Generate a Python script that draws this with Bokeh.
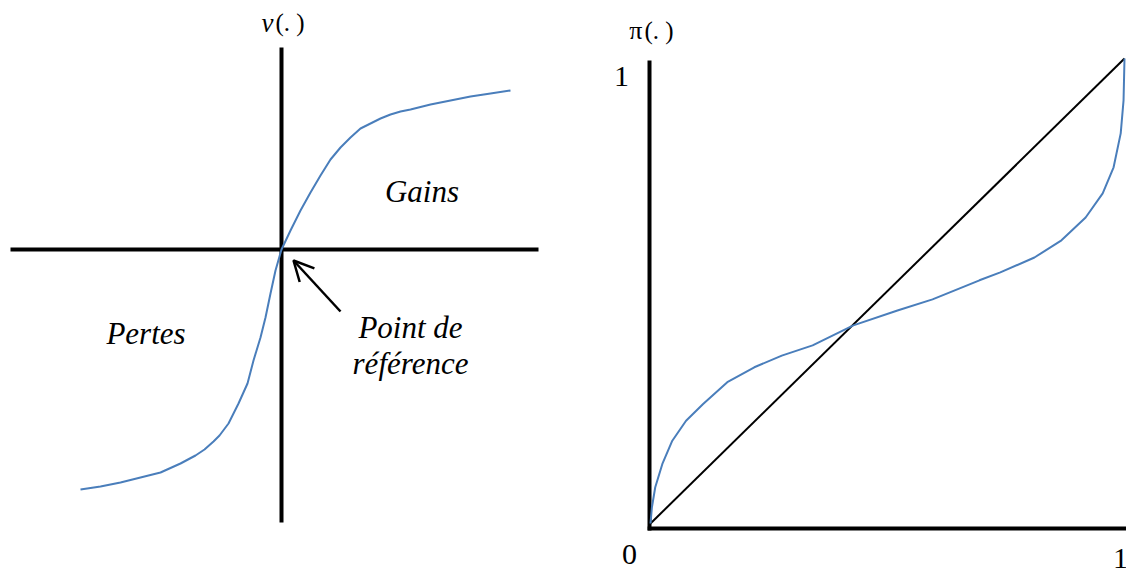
from bokeh.plotting import figure
from bokeh.models import Range1d, Arrow, OpenHead
from bokeh.core.properties import value
from bokeh.embed import file_html
from bokeh.resources import INLINE

# ---------------- data ----------------
# Left panel: value function v(.) (gains and losses around the reference point)
gain_x = [0, 0.09, 0.19, 0.29, 0.39, 0.49, 0.59, 0.69, 0.79, 0.89, 0.99, 1.09, 1.19, 1.29,
          1.49, 1.69, 1.89, 2.09, 2.29]
gain_y = [0, 0.19, 0.39, 0.57, 0.74, 0.90, 1.02, 1.12, 1.21, 1.26, 1.31, 1.35, 1.38, 1.40,
          1.45, 1.49, 1.53, 1.56, 1.59]
loss_x = [0, -0.06, -0.11, -0.16, -0.21, -0.28, -0.34, -0.43, -0.53, -0.62, -0.68, -0.77,
          -0.86, -1.01, -1.21, -1.41, -1.61, -1.81, -2.01]
loss_y = [0, -0.21, -0.44, -0.68, -0.88, -1.11, -1.34, -1.54, -1.74, -1.86, -1.92, -2.00,
          -2.06, -2.14, -2.23, -2.28, -2.33, -2.37, -2.40]

# Right panel: probability weighting function pi(.)
prob_p = [0, 0.003, 0.010, 0.025, 0.046, 0.075, 0.111, 0.162, 0.219, 0.277, 0.342, 0.428,
          0.521, 0.595, 0.694, 0.738, 0.810, 0.867, 0.918, 0.954, 0.977, 0.992, 0.998, 1.0]
prob_w = [0, 0.035, 0.078, 0.128, 0.178, 0.221, 0.257, 0.304, 0.336, 0.361, 0.383, 0.426,
          0.458, 0.482, 0.523, 0.540, 0.572, 0.609, 0.658, 0.710, 0.766, 0.839, 0.910, 1.0]
diag = [0, 1]

left_labels = ["Gains", "Pertes", "Point de", "référence"]
tick_labels = ["1", "0", "1"]

BLUE = "#4A7EBB"
FONT = value("Liberation Serif")

# ---------------- figure ----------------
p = figure(width=1126, height=571, output_backend="svg", toolbar_location=None,
           x_axis_type=None, y_axis_type=None,
           x_range=Range1d(-2.81, 8.45), y_range=Range1d(-3.22, 2.49),
           min_border=0, min_border_left=0, min_border_right=0,
           min_border_top=0, min_border_bottom=0)
p.extra_x_ranges = {"w": Range1d(-1.37131, 1.00422)}
p.extra_y_ranges = {"w": Range1d(-0.10323, 1.12473)}
p.outline_line_color = None
p.background_fill_color = "white"
p.border_fill_color = "white"
p.grid.visible = False

# ---- left panel ----
# axes crossing at the reference point
p.segment(x0=[-2.71, 0], y0=[0, 2.02], x1=[2.57, 0], y1=[0, -2.73],
          line_color="black", line_width=4)
vx = list(reversed(loss_x)) + gain_x[1:]
vy = list(reversed(loss_y)) + gain_y[1:]
p.line(vx, vy, line_color=BLUE, line_width=2, line_join="round")

p.text(x=[1.405, -1.355, 1.29, 1.29], y=[0.58, -0.84, -0.78, -1.14], text=left_labels,
       text_font=FONT, text_font_size="31px", text_font_style="italic",
       text_align="center", text_baseline="alphabetic", text_color="black")
p.text(x=[-0.08], y=[2.27], text=["v"], text_font=FONT, text_font_size="27px",
       text_font_style="italic", text_align="right", text_baseline="alphabetic")
p.text(x=[-0.06], y=[2.27], text=["(. )"], text_font=FONT, text_font_size="25px",
       text_align="left", text_baseline="alphabetic")

p.add_layout(Arrow(end=OpenHead(size=20, line_width=2.5, line_color="black"),
                   x_start=0.59, y_start=-0.62, x_end=0.12, y_end=-0.11,
                   line_width=2.5, line_color="black"))

# ---- right panel ----
p.segment(x0=[-0.0021, -0.006], y0=[0.9957, -0.0108], x1=[-0.0021, 1.02], y1=[-0.015, -0.0108],
          line_color="black", line_width=4, x_range_name="w", y_range_name="w")
p.line(diag, diag, line_color="black", line_width=2, x_range_name="w", y_range_name="w")
p.line(prob_p, prob_w, line_color=BLUE, line_width=2, line_join="round",
       x_range_name="w", y_range_name="w")

p.text(x=[-0.0612, -0.0443, 0.9916], y=[0.9613, -0.0667, -0.0760], text=tick_labels,
       text_font=FONT, text_font_size="30px", text_align="center",
       text_baseline="alphabetic", x_range_name="w", y_range_name="w")
p.text(x=[-0.0169], y=[1.0602], text=["π"], text_font=FONT, text_font_size="26px",
       text_align="right", text_baseline="alphabetic", x_range_name="w", y_range_name="w")
p.text(x=[-0.0127], y=[1.0602], text=["(. )"], text_font=FONT, text_font_size="25px",
       text_align="left", text_baseline="alphabetic", x_range_name="w", y_range_name="w")

open("out.html", "w").write(file_html(p, INLINE))
